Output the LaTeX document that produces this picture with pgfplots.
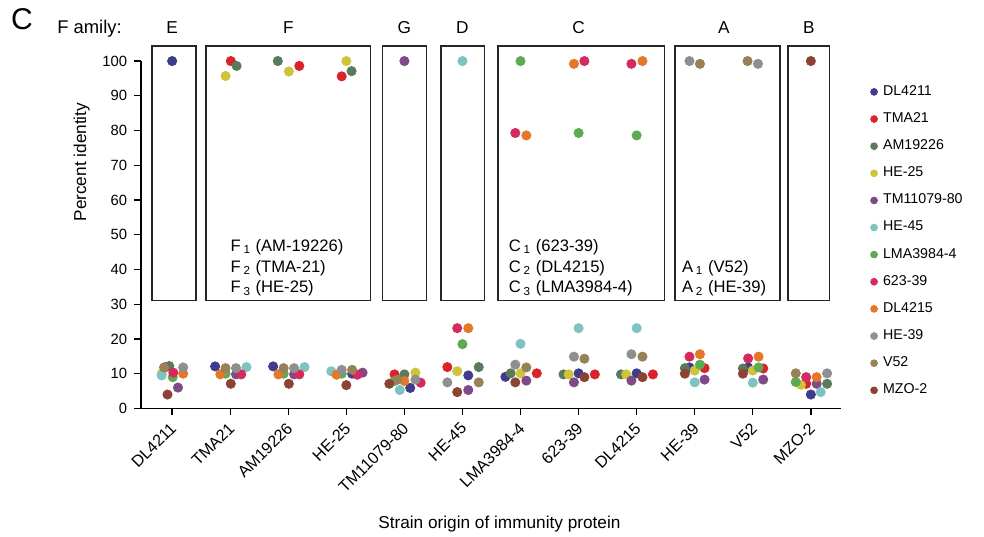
\documentclass[border=0pt]{standalone}
\usepackage{fontspec}
\setmainfont{Liberation Sans}
\usepackage{pgfplots}
\pgfplotsset{compat=1.18}
\definecolor{cDL4211}{HTML}{3F3C8C}
\definecolor{cTMA21}{HTML}{D9232B}
\definecolor{cAM19226}{HTML}{5B7A5B}
\definecolor{cHE25}{HTML}{CDC43C}
\definecolor{cTM11079}{HTML}{7F4A87}
\definecolor{cHE45}{HTML}{7DC3C1}
\definecolor{cLMA}{HTML}{5CAB52}
\definecolor{c62339}{HTML}{D42A5F}
\definecolor{cDL4215}{HTML}{E4772A}
\definecolor{cHE39}{HTML}{8F8F8F}
\definecolor{cV52}{HTML}{9A8057}
\definecolor{cMZO2}{HTML}{8B4336}
\pgfplotsset{dot/.style={only marks, mark=*, mark size=2.3pt, color=#1, mark options={draw=none, fill=#1}}}
\newcommand{\lab}{\fontsize{8.6}{10}\selectfont}
\begin{document}
\begin{tikzpicture}
\path[use as bounding box] (-70.5pt,-64pt) rectangle (421pt,204pt);
\begin{axis}[
  at={(0,0)}, anchor=south west,
  scale only axis, width=349.5pt, height=173.5pt,
  xmin=-0.534, xmax=11.517, ymin=0, ymax=100,
  axis lines*=left,
  axis line style={line width=0.7pt, black},
  clip=false,
  tick align=outside, major tick length=3.5pt,
  tick style={line width=0.7pt, black},
  xtick={0,...,11},
  xticklabels={DL4211,TMA21,AM19226,HE-25,TM11079-80,HE-45,LMA3984-4,623-39,DL4215,HE-39,V52,MZO-2},
  xticklabel style={rotate=45, anchor=north east, font=\fontsize{8.1}{9}\selectfont, inner sep=1pt, xshift=-2pt},
  ytick={0,10,...,100},
  yticklabel style={font=\fontsize{7.4}{9}\selectfont},
  /pgf/number format/assume math mode=true,
  xlabel={Strain origin of immunity protein},
  xlabel style={at={(axis description cs:0.512,-0.3458)}, anchor=base, font=\lab},
  ylabel={Percent identity},
  ylabel style={at={(axis description cs:-0.0787,0.709)}, anchor=base, font=\lab},
  legend style={at={(1.042,0.9425)}, anchor=north west, draw=none, fill=none, inner sep=0pt, row sep=3.1pt, column sep=0.8pt, font=\fontsize{7.1}{8.5}\selectfont},
  legend cell align=left,
  legend image code/.code={\draw[#1, mark size=1.7pt] plot coordinates {(0pt,0pt)};},
]
\addplot[dot=cDL4211] coordinates {(0.00,100) (0.74,12.1) (1.74,12.1) (3.10,10.0) (4.10,5.9) (5.10,9.5) (5.74,9.1) (7.00,10.1) (8.00,10.1) (8.91,11.8) (9.92,11.8) (11.00,4.0)};
\addlegendentry{DL4211}
\addplot[dot=cTMA21] coordinates {(-0.11,11.9) (1.01,100) (2.19,98.6) (2.92,95.6) (3.83,9.8) (4.74,11.9) (6.28,10.1) (7.28,9.8) (8.28,9.8) (9.17,11.6) (10.18,11.5) (10.92,7.1)};
\addlegendentry{TMA21}
\addplot[dot=cAM19226] coordinates {(-0.05,12.2) (1.11,98.6) (1.82,100) (3.09,97.1) (4.00,9.8) (5.28,11.9) (5.83,10.1) (6.74,9.8) (7.73,9.8) (8.83,11.6) (9.83,11.5) (11.28,7.1)};
\addlegendentry{AM19226}
\addplot[dot=cHE25] coordinates {(-0.18,10.0) (0.92,95.7) (2.01,97.0) (3.00,100) (4.19,10.3) (4.91,10.7) (6.00,10.1) (6.83,9.8) (7.82,9.8) (9.00,10.9) (10.00,10.9) (10.83,6.8)};
\addlegendentry{HE-25}
\addplot[dot=cTM11079] coordinates {(0.10,6.0) (1.10,9.8) (2.10,9.8) (3.28,10.3) (4.00,100) (5.10,5.3) (6.10,8.0) (6.92,7.5) (7.91,8.0) (9.17,8.3) (10.18,8.3) (11.10,7.1)};
\addlegendentry{TM11079-80}
\addplot[dot=cHE45] coordinates {(-0.18,9.5) (1.28,11.9) (2.28,11.9) (2.74,10.7) (3.92,5.3) (5.00,100) (6.00,18.6) (7.00,23.1) (8.00,23.1) (9.00,7.5) (10.00,7.4) (11.17,4.7)};
\addlegendentry{HE-45}
\addplot[dot=cLMA] coordinates {(0.01,9.0) (0.92,10.0) (1.92,10.0) (2.92,10.0) (3.83,7.9) (5.00,18.5) (6.00,100) (7.00,79.3) (8.00,78.6) (9.09,12.6) (10.10,11.8) (10.74,7.6)};
\addlegendentry{LMA3984-4}
\addplot[dot=c62339] coordinates {(0.02,10.3) (1.19,9.8) (2.19,9.8) (3.19,9.7) (4.28,7.4) (4.91,23.1) (5.91,79.3) (7.10,100) (7.91,99.2) (8.91,14.9) (9.92,14.4) (10.92,9.0)};
\addlegendentry{623-39}
\addplot[dot=cDL4215] coordinates {(0.19,10.0) (0.83,9.8) (1.83,9.8) (2.83,9.7) (4.00,7.9) (5.10,23.1) (6.10,78.6) (6.92,99.2) (8.10,100) (9.09,15.6) (10.10,14.9) (11.10,9.0)};
\addlegendentry{DL4215}
\addplot[dot=cHE39] coordinates {(0.19,11.8) (1.10,11.6) (2.10,11.6) (2.92,11.1) (4.19,8.3) (4.74,7.5) (5.91,12.6) (6.92,14.9) (7.91,15.6) (8.91,100) (10.09,99.2) (11.28,10.1)};
\addlegendentry{HE-39}
\addplot[dot=cV52] coordinates {(-0.14,11.8) (0.92,11.6) (1.92,11.6) (3.10,11.1) (3.88,8.3) (5.28,7.5) (6.10,11.8) (7.10,14.3) (8.10,14.9) (9.09,99.2) (9.91,100) (10.74,10.1)};
\addlegendentry{V52}
\addplot[dot=cMZO2] coordinates {(-0.08,4.0) (1.01,7.1) (2.01,7.1) (3.00,6.7) (3.74,7.1) (4.91,4.7) (5.91,7.5) (7.10,9.0) (8.10,9.0) (8.83,10.0) (9.83,10.0) (11.00,100)};
\addlegendentry{MZO-2}
% family boxes
\begin{scope}[line width=0.75pt, draw=black!85]
\draw (axis cs:-0.35,31.1) rectangle (axis cs:0.414,104.4);
\draw (axis cs:0.586,31.1) rectangle (axis cs:3.414,104.4);
\draw (axis cs:3.626,31.1) rectangle (axis cs:4.379,104.4);
\draw (axis cs:4.626,31.1) rectangle (axis cs:5.379,104.4);
\draw (axis cs:5.616,31.1) rectangle (axis cs:8.48,104.4);
\draw (axis cs:8.66,31.1) rectangle (axis cs:10.466,104.4);
\draw (axis cs:10.61,31.1) rectangle (axis cs:11.32,104.4);
\end{scope}
% family labels
\node[anchor=base, font=\lab] at (axis cs:0,107.8) {E};
\node[anchor=base, font=\lab] at (axis cs:2,107.8) {F};
\node[anchor=base, font=\lab] at (axis cs:4,107.8) {G};
\node[anchor=base, font=\lab] at (axis cs:5,107.8) {D};
\node[anchor=base, font=\lab] at (axis cs:7,107.8) {C};
\node[anchor=base, font=\lab] at (axis cs:9.5,107.8) {A};
\node[anchor=base, font=\lab] at (axis cs:10.965,107.8) {B};
\node[anchor=base east, inner sep=0pt, font=\fontsize{9.2}{10}\selectfont] at (axis cs:-0.862,107.8) {F\hspace{2.5pt}amily:};
\node[anchor=center, inner sep=0pt, font=\fontsize{15}{18}\selectfont] at (axis cs:-2.586,112.1) {C};
% box texts
\begin{scope}[every node/.style={anchor=base west, inner sep=0pt, font=\fontsize{8.3}{10}\selectfont}]
\node at (axis cs:1.0,45.2) {F\,\textsubscript{1} (AM-19226)};
\node at (axis cs:1.0,39.2) {F\,\textsubscript{2} (TMA-21)};
\node at (axis cs:1.0,33.4) {F\,\textsubscript{3} (HE-25)};
\node at (axis cs:5.793,45.2) {C\,\textsubscript{1} (623-39)};
\node at (axis cs:5.793,39.2) {C\,\textsubscript{2} (DL4215)};
\node at (axis cs:5.793,33.4) {C\,\textsubscript{3} (LMA3984-4)};
\node at (axis cs:8.776,39.2) {A\,\textsubscript{1} (V52)};
\node at (axis cs:8.776,33.4) {A\,\textsubscript{2} (HE-39)};
\end{scope}
\end{axis}
\end{tikzpicture}
\end{document}
